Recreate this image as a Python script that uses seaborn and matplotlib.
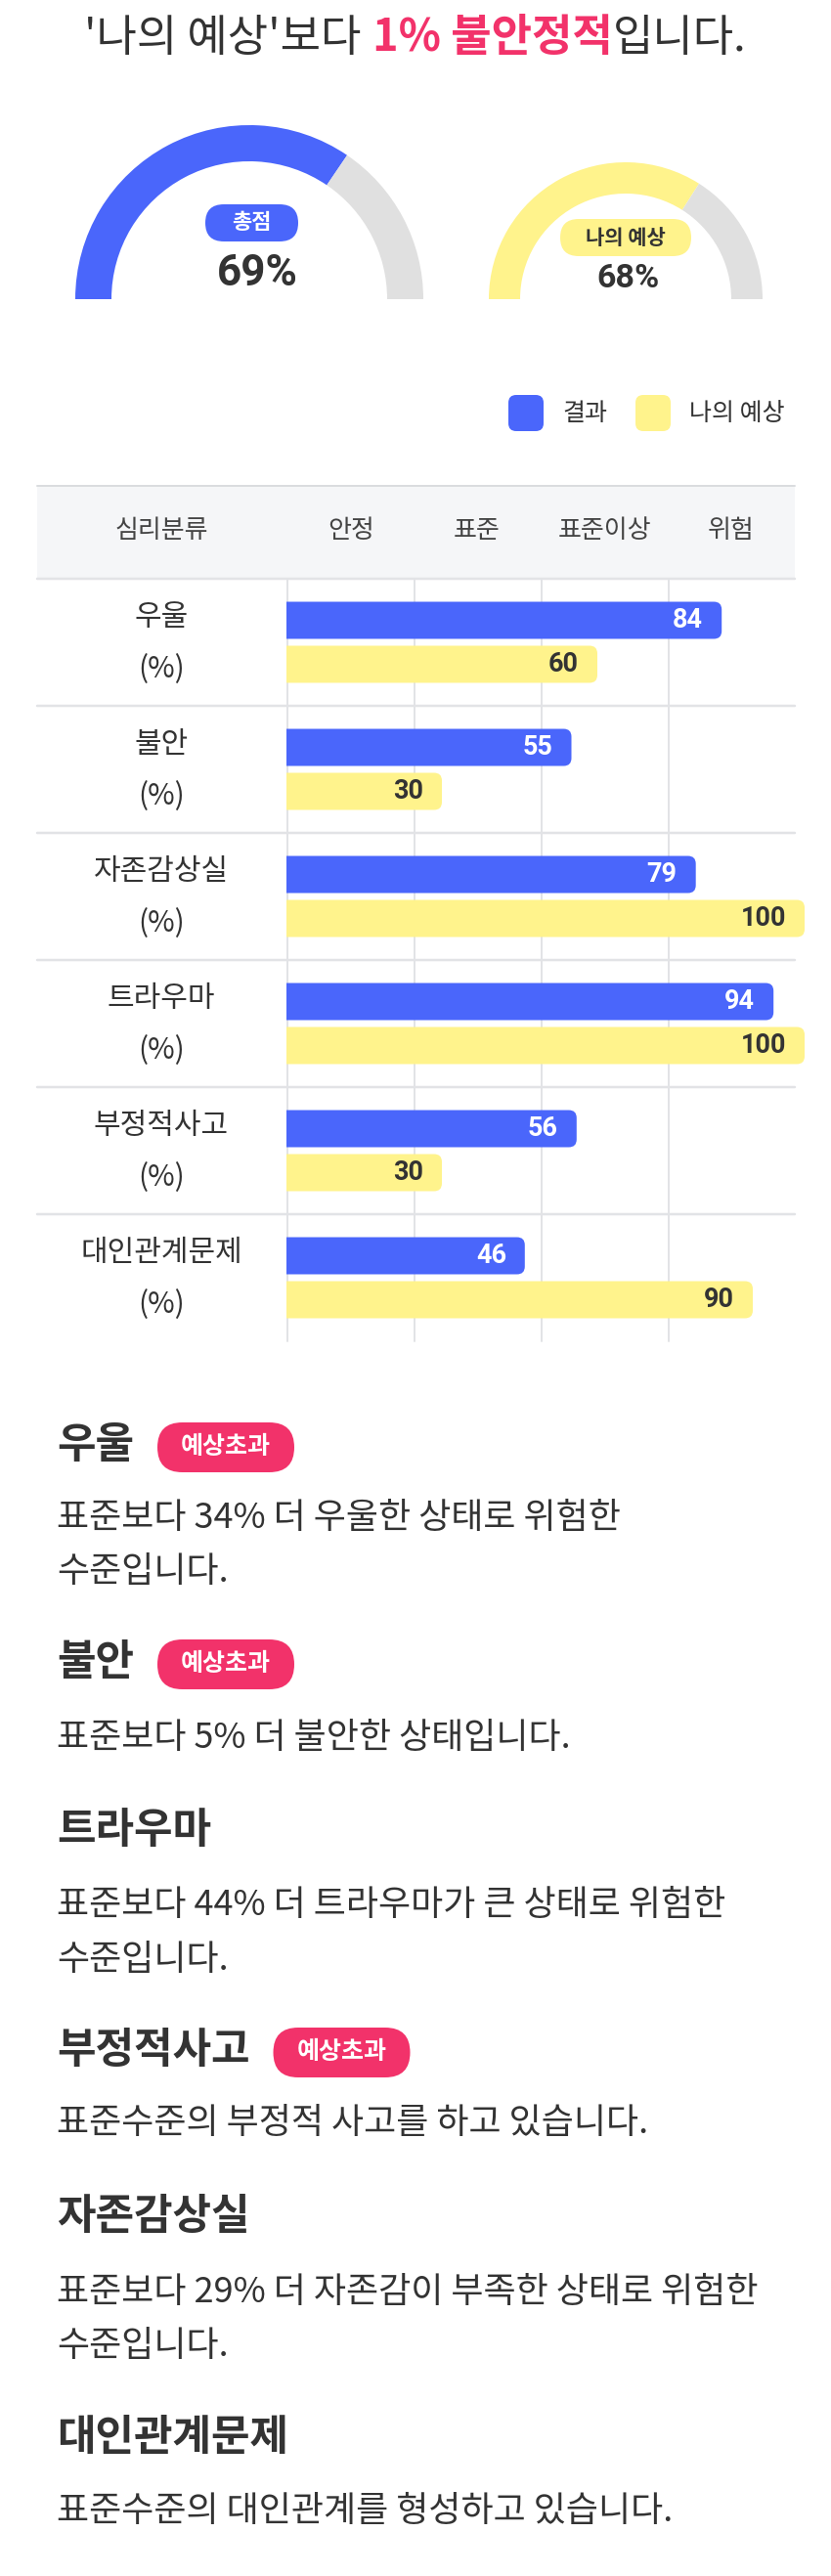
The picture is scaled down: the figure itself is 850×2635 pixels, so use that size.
import matplotlib
matplotlib.use("Agg")
import matplotlib.pyplot as plt
from matplotlib.patches import FancyBboxPatch, Rectangle
import seaborn as sns
import pandas as pd

# ---------------- data ----------------
categories = ["우울", "불안", "자존감상실", "트라우마", "부정적사고", "대인관계문제"]
result_values = [84, 55, 79, 94, 56, 46]
expected_values = [60, 30, 100, 100, 30, 90]
series_names = ["결과", "나의 예상"]
total_score = 69
my_expectation = 68
header_labels = ["심리분류", "안정", "표준", "표준이상", "위험"]
title_parts = ["'나의 예상'보다", "1% 불안정적", "입니다."]
section_titles = ["우울", "불안", "트라우마", "부정적사고", "자존감상실", "대인관계문제"]
section_flags = [True, True, False, True, False, False]
section_lines = [
    ["표준보다 34% 더 우울한 상태로 위험한", "수준입니다."],
    ["표준보다 5% 더 불안한 상태입니다."],
    ["표준보다 44% 더 트라우마가 큰 상태로 위험한", "수준입니다."],
    ["표준수준의 부정적 사고를 하고 있습니다."],
    ["표준보다 29% 더 자존감이 부족한 상태로 위험한", "수준입니다."],
    ["표준수준의 대인관계를 형성하고 있습니다."],
]
flag_label = "예상초과"

# ---------------- style ----------------
W, H, DPI = 850, 2635, 100
PT = 72 / DPI
BLUE = "#4A66FB"
YELLOW = "#FFF38C"
PINK = "#F2326A"
GRAY = "#E0E0E0"
DARK = "#333333"
HEADER_BG = "#F5F6F8"
LINE = "#E2E3E6"

sns.set_theme(style="white")
plt.rcParams["font.family"] = ["Noto Sans CJK KR", "DejaVu Sans"]
NUMFONT = ["Roboto", "Noto Sans CJK KR", "DejaVu Sans"]

fig = plt.figure(figsize=(W / DPI, H / DPI), dpi=DPI, facecolor="white")
ax0 = fig.add_axes([0, 0, 1, 1])
ax0.set_xlim(0, W)
ax0.set_ylim(H, 0)
ax0.axis("off")
renderer = fig.canvas.get_renderer()


def txt(x, y, s, px, color=DARK, weight="normal", ha="left", va="center", family=None, ax=ax0):
    kw = {}
    if family is not None:
        kw["family"] = family
    return ax.text(x, y, s, fontsize=px * PT, color=color, fontweight=weight,
                   ha=ha, va=va, **kw)


def pill(x0, y0, w, h, color, r=None):
    r = h / 2 if r is None else r
    ax0.add_patch(FancyBboxPatch((x0, y0), w, h,
                                 boxstyle=f"round,pad=0,rounding_size={r}",
                                 fc=color, ec="none", zorder=3))


# ---------------- title ----------------
tsize = 45
t1 = txt(0, 39, title_parts[0], tsize)
t2 = txt(0, 39, title_parts[1], tsize, color=PINK, weight="bold")
t3 = txt(0, 39, title_parts[2], tsize)
w1 = t1.get_window_extent(renderer).width
w2 = t2.get_window_extent(renderer).width
w3 = t3.get_window_extent(renderer).width
gap = 12
start = 425 - (w1 + gap + w2 + w3) / 2
t1.set_x(start)
t2.set_x(start + w1 + gap)
t3.set_x(start + w1 + gap + w2)


# ---------------- gauges (pie) ----------------
def gauge(cx, cy, R, thick, value, color):
    ax = fig.add_axes([(cx - R) / W, (H - cy - R) / H, 2 * R / W, 2 * R / H])
    ax.pie([value, 100 - value, 100], colors=[color, GRAY, "none"],
           startangle=180, counterclock=False, radius=1,
           wedgeprops=dict(width=thick / R, linewidth=0))
    ax.set_xlim(-1, 1)
    ax.set_ylim(-1, 1)
    ax.axis("off")
    ax.patch.set_visible(False)


gauge(255, 306, 178, 37, total_score, BLUE)
gauge(640, 306, 140, 32, my_expectation, YELLOW)

pill(210, 209, 95, 38, BLUE)
txt(257.5, 228, "총점", 22, color="white", weight="bold", ha="center")
txt(263, 280, f"{total_score}%", 44, weight="bold", ha="center", family=NUMFONT)

pill(573, 224, 134, 38, YELLOW)
txt(640, 243, "나의 예상", 21, weight="bold", ha="center")
txt(643, 285, f"{my_expectation}%", 34, weight="bold", ha="center", family=NUMFONT)

# ---------------- legend ----------------
pill(520, 404, 36, 37, BLUE, r=8)
txt(575, 423, series_names[0], 25)
pill(650, 404, 36, 37, YELLOW, r=8)
txt(705, 423, series_names[1], 25)

# ---------------- table frame ----------------
TL, TR = 38, 813
HEAD_TOP, ROW_TOP, ROW_H = 497, 592, 130
n = len(categories)
ROW_BOTTOM = ROW_TOP + ROW_H * n
ax0.add_patch(Rectangle((TL, HEAD_TOP), TR - TL, ROW_TOP - HEAD_TOP, fc=HEADER_BG, ec="none", zorder=0))
ax0.plot([TL, TR], [HEAD_TOP, HEAD_TOP], color="#DADCDF", lw=2 * PT, zorder=1)
for i in range(n):
    yy = ROW_TOP + ROW_H * i
    ax0.plot([TL, TR], [yy, yy], color=LINE, lw=2.5 * PT, zorder=1)
for gx in [294, 424, 554, 684]:
    ax0.plot([gx, gx], [ROW_TOP, ROW_BOTTOM], color=LINE, lw=2 * PT, zorder=1)
for lbl, hx in zip(header_labels, [165, 359, 488, 618, 748]):
    txt(hx, 543, lbl, 26, color="#444444", ha="center")
for i, cat in enumerate(categories):
    yy = ROW_TOP + ROW_H * i
    txt(165, yy + 40, cat, 30, ha="center")
    txt(165, yy + 93, "(%)", 30, ha="center")

# ---------------- bars (seaborn) ----------------
X0 = 293
PX_PER_UNIT = 5.3
axb = fig.add_axes([X0 / W, (H - ROW_BOTTOM) / H, (W - X0) / W, (ROW_BOTTOM - ROW_TOP) / H])
df = pd.DataFrame({
    "category": categories * 2,
    "value": result_values + expected_values,
    "series": [series_names[0]] * n + [series_names[1]] * n,
})
sns.barplot(data=df, x="value", y="category", hue="series", order=categories,
            hue_order=series_names, orient="h", palette=[BLUE, YELLOW],
            width=0.692, gap=0.156, saturation=1, errorbar=None, legend=False,
            linewidth=0, ax=axb)
axb.set_xlim(0, (W - X0) / PX_PER_UNIT)
axb.set_ylim(n - 0.5, -0.5)
axb.axis("off")
axb.patch.set_visible(False)

r_units = 8 / PX_PER_UNIT
aspect = (1 / ROW_H) / (1 / PX_PER_UNIT)
label_colors = ["white", DARK]
for container, lc in zip(axb.containers, label_colors):
    for bar in container:
        x, y = bar.get_x(), bar.get_y()
        w, h = bar.get_width(), bar.get_height()
        bar.set_visible(False)
        fb = FancyBboxPatch((x - r_units, y), w + r_units, h,
                            boxstyle=f"round,pad=0,rounding_size={r_units}",
                            mutation_aspect=aspect, fc=bar.get_facecolor(), ec="none")
        axb.add_patch(fb)
        axb.annotate(f"{w:g}", xy=(x + w, y + h / 2), xytext=(-19 * PT, 0),
                     textcoords="offset points", ha="right", va="center",
                     fontsize=27 * PT, fontweight="bold", color=lc, family=NUMFONT)

# ---------------- text sections ----------------
head_y = [1478, 1700, 1872, 2097, 2267, 2493]
body_y = [[1553, 1608], [1778], [1949, 2005], [2172], [2345, 2400], [2569]]
for title, flag, lines, hy, bys in zip(section_titles, section_flags, section_lines, head_y, body_y):
    th = txt(58, hy, title, 43, weight="bold")
    if flag:
        tw = th.get_window_extent(renderer).width
        px0 = 58 + tw + 24
        pill(px0, hy - 23, 140, 51, PINK)
        txt(px0 + 70, hy + 2, flag_label, 25, color="white", weight="bold", ha="center")
    for line, by in zip(lines, bys):
        txt(58, by, line, 36)

fig.savefig("out.png", dpi=DPI, facecolor="white")
